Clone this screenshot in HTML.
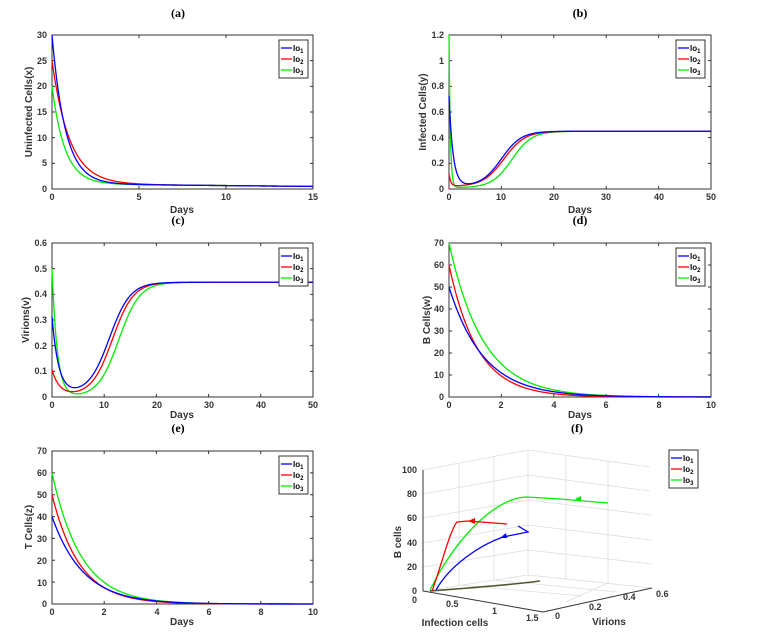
<!DOCTYPE html>
<html><head><meta charset="utf-8"><style>
body{margin:0;background:#fff}
svg{display:block;font-family:"Liberation Sans",sans-serif}
.t{font-family:"Liberation Serif",serif;font-weight:bold;font-size:12px;text-anchor:middle}
.k{font-size:9px;font-weight:bold;fill:#333}
.l{font-size:10px;font-weight:bold;fill:#333}
.g{font-size:8px;font-weight:bold}
</style></head><body>
<svg id="s" width="761" height="633" viewBox="0 0 761 633" xmlns="http://www.w3.org/2000/svg">
<text class="t" x="178" y="17">(a)</text>
<text class="t" x="580" y="17">(b)</text>
<text class="t" x="178" y="224">(c)</text>
<text class="t" x="580" y="224">(d)</text>
<text class="t" x="178" y="432">(e)</text>
<text class="t" x="577" y="432">(f)</text>

<g class="k" text-anchor="end">
<text x="47" y="38">30</text><text x="47" y="64">25</text><text x="47" y="89">20</text><text x="47" y="115">15</text><text x="47" y="141">10</text><text x="47" y="166">5</text><text x="47" y="192">0</text>
<text x="444" y="38">1.2</text><text x="444" y="64">1</text><text x="444" y="89">0.8</text><text x="444" y="115">0.6</text><text x="444" y="141">0.4</text><text x="444" y="166">0.2</text><text x="444" y="192">0</text>
<text x="47" y="246">0.6</text><text x="47" y="272">0.5</text><text x="47" y="297">0.4</text><text x="47" y="323">0.3</text><text x="47" y="349">0.2</text><text x="47" y="374">0.1</text><text x="47" y="400">0</text>
<text x="444" y="246">70</text><text x="444" y="268">60</text><text x="444" y="290">50</text><text x="444" y="312">40</text><text x="444" y="334">30</text><text x="444" y="356">20</text><text x="444" y="378">10</text><text x="444" y="400">0</text>
<text x="47" y="454">70</text><text x="47" y="476">60</text><text x="47" y="498">50</text><text x="47" y="520">40</text><text x="47" y="542">30</text><text x="47" y="564">20</text><text x="47" y="586">10</text><text x="47" y="607">0</text>
</g>
<g class="k" text-anchor="middle">
<text x="52" y="200">0</text><text x="139" y="200">5</text><text x="226" y="200">10</text><text x="313" y="200">15</text>
<text x="449" y="200">0</text><text x="501" y="200">10</text><text x="554" y="200">20</text><text x="606" y="200">30</text><text x="659" y="200">40</text><text x="711" y="200">50</text>
<text x="52" y="408">0</text><text x="104" y="408">10</text><text x="157" y="408">20</text><text x="209" y="408">30</text><text x="261" y="408">40</text><text x="313" y="408">50</text>
<text x="449" y="408">0</text><text x="501" y="408">2</text><text x="554" y="408">4</text><text x="606" y="408">6</text><text x="659" y="408">8</text><text x="711" y="408">10</text>
<text x="52" y="615">0</text><text x="104" y="615">2</text><text x="157" y="615">4</text><text x="209" y="615">6</text><text x="261" y="615">8</text><text x="313" y="615">10</text>
</g>
<g class="l" text-anchor="middle">
<text x="182" y="213">Days</text><text x="580" y="213">Days</text><text x="182" y="418">Days</text><text x="580" y="418">Days</text><text x="182" y="625">Days</text>
<text transform="translate(32,112) rotate(-90)">Uninfected Cells(x)</text>
<text transform="translate(426,112) rotate(-90)">Infected Cells(y)</text>
<text transform="translate(29,320) rotate(-90)">Virions(v)</text>
<text transform="translate(430,320) rotate(-90)">B Cells(w)</text>
<text transform="translate(32,527) rotate(-90)">T Cells(z)</text>
<text transform="translate(401,542) rotate(-90)">B cells</text>
<text x="455" y="626">Infection cells</text>
<text x="609" y="625">Virions</text>
</g>
<g stroke="#ddd" stroke-width="0.8" fill="none">
<path d="M423,470 L528,450 L650,467 M528,450 L528,575 M423,591 L528,575 L652,588"/>
<path d="M423,494 L528,475 L650,491 M423,518 L528,500 L651,515 M423,543 L528,525 L651,540 M423,567 L528,550 L652,564"/>
<path d="M459,463 L459,585 L582,596 M494,456 L494,580 L617,592 M566,455 L566,579 M608,461 L608,583 L566,602"/>
</g>
<g stroke="#333" stroke-width="1" fill="none">
<path d="M423,470 L423,591 L543,612 L652,588"/>
</g>
<g class="k" text-anchor="end">
<text x="417" y="473">100</text><text x="417" y="497">80</text><text x="417" y="521">60</text><text x="417" y="546">40</text><text x="417" y="570">20</text><text x="417" y="594">0</text><text x="417" y="603">0</text>
</g>
<g class="k">
<text x="446" y="607">0.5</text><text x="492" y="614">1</text><text x="526" y="621">1.5</text>
<text x="555" y="619">0</text><text x="589" y="610">0.2</text><text x="623" y="600">0.4</text><text x="656" y="597">0.6</text>
</g>
<g fill="none" stroke-width="1.3">
<path d="M608,503 L560,499 L527,497 C500,497 460,530 430,590" stroke="#0e0"/>
<path d="M507,524 L468,521 L457,522 C450,530 440,570 432,591" stroke="#f00"/>
<path d="M518,526 L528,532 L503,537 C480,545 450,565 436,590" stroke="#00f"/>
<path d="M430,591 C470,588 510,585 540,581" stroke="#553" stroke-width="1.6"/>
</g>
<path d="M575,499 l6,-3 l0,6z" fill="#0e0"/>
<path d="M468,521 l7,-3 l0,6z" fill="#f00"/>
<path d="M500,538 l6,-5 l1,5z" fill="#00f"/>
<g id="dyn"></g>
</svg>
<script>
const NS="http://www.w3.org/2000/svg",s=document.getElementById('dyn');
function el(t,a,p){const e=document.createElementNS(NS,t);for(const k in a)e.setAttribute(k,a[k]);(p||s).appendChild(e);return e}
const L=x=>1/(1+Math.exp(-x));
function panel(x0,y0,x1,y1,xm,ym,nx,ny,fs,lx,ly){
 el('rect',{x:x0,y:y0,width:x1-x0,height:y1-y0,fill:'none',stroke:'#333','stroke-width':1});
 for(let i=1;i<nx;i++){const x=x0+(x1-x0)*i/nx;el('path',{d:`M${x},${y1}v-3M${x},${y0}v3`,stroke:'#333'})}
 for(let i=1;i<ny;i++){const y=y1-(y1-y0)*i/ny;el('path',{d:`M${x0},${y}h3M${x1},${y}h-3`,stroke:'#333'})}
 const cols=['#00f','#f00','#0e0'];
 [2,1,0].forEach(j=>{let d='';for(let i=0;i<=400;i++){const t=xm*i/400;let v=fs[j](t);v=Math.max(0,Math.min(ym,v));d+=(i?'L':'M')+(x0+(x1-x0)*t/xm).toFixed(2)+','+(y1-(y1-y0)*v/ym).toFixed(2)}
  el('path',{d,fill:'none',stroke:cols[j],'stroke-width':1.3})});
 legend(lx,ly);
}
function legend(x,y){
 el('rect',{x,y,width:29,height:38,fill:'#fff',stroke:'#333','stroke-width':1});
 ['#00f','#f00','#0e0'].forEach((c,i)=>{const yy=y+8+i*11;el('path',{d:`M${x+2},${yy}h11`,stroke:c,'stroke-width':1.3});
  const t=el('text',{x:x+14,y:yy+3,class:'g'});t.textContent='lo';const ts=el('tspan',{'font-size':'6px',dy:'2'},t);ts.textContent=String(i+1);});
}
const b=t=>1-0.5*t/15;
panel(52,35,313,189,15,30,3,6,[t=>29*Math.exp(-1.3*t)+b(t),t=>24*Math.exp(-1.0*t)+b(t),t=>19*Math.exp(-1.35*t)+b(t)],279,40);
const fb=(A,c)=>t=>A*Math.exp(-3*t)+0.02+0.43*L((t-c)/2);
panel(449,35,711,189,50,1.2,5,6,[t=>0.7*Math.exp(-1.3*t)+0.02+0.43*L((t-10)/1.9),fb(0.1,10.5),t=>1.2*Math.exp(-4*t)+0.01+0.44*L((t-12)/1.9)],676,40);
const fc=(A,k,m,c)=>t=>A*Math.exp(-k*t)+m+(0.447-m)*L((t-c)/2.0);
panel(52,243,313,397,50,0.6,5,6,[fc(0.3,0.8,0.012,11),fc(0.1,0.7,0.005,11.6),fc(0.5,1.0,0.0,12.8)],279,248);
panel(449,243,711,397,10,70,5,7,[t=>50*Math.exp(-0.76*t),t=>60*Math.exp(-0.92*t),t=>70*Math.exp(-0.77*t)],676,248);
panel(52,451,313,604,10,70,5,7,[t=>40*Math.exp(-0.84*t),t=>50*Math.exp(-0.95*t),t=>60*Math.exp(-0.9*t)],279,456);
legend(669,450);
</script>
</body></html>
